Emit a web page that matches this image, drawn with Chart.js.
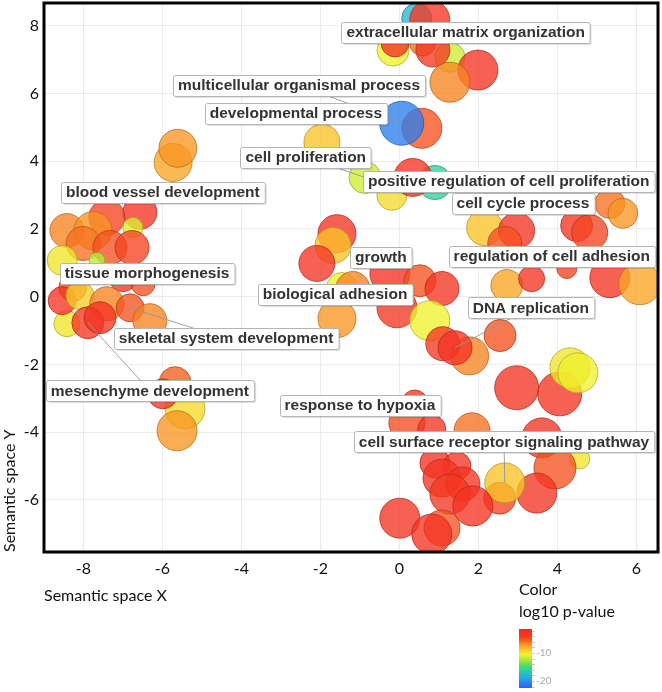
<!DOCTYPE html>
<html>
<head>
<meta charset="utf-8">
<script src="https://cdn.jsdelivr.net/npm/chart.js@4.4.1/dist/chart.umd.min.js"></script>
<style>
    html, body { margin: 0; padding: 0; background: #fff; }
    #chart { display: block; }
</style>
</head>
<body>
<canvas id="chart" width="662" height="692"></canvas>
<script>
// Position of every GO term in semantic space
var semX = [0.44, -0.16, 1.28, -0.11, 0.59, 0.77, 0.85, 1.99, 1.28,
    0.57, 0.06,
    -1.96, -0.87, -0.19, 0.90, 0.34,
    -5.73, -5.61,
    -6.57, -7.41, -6.75, -8.42, -7.76, -8.01, -7.33, -6.77, -8.54, -7.66, -7.00, -6.49, -8.27,
    -8.42, -8.54, -8.09, -7.41, -6.82, -7.89, -7.58, -6.32,
    -5.43, -5.68, -5.99, -5.63,
    -1.58, -1.68, -2.09, -1.46, -1.18, -0.24, 0.52, 1.08, -0.06, -1.58, 0.77, 1.78, 1.10, 1.41, 2.55,
    5.33, 5.66, 4.49, 4.82, 2.16, 2.97, 2.67, 2.72, 3.35, 4.24, 5.33, 6.09,
    2.97, 4.06, 4.32, 4.52,
    0.39, 0.19, 0.82, 1.84, 3.61, 4.57, 3.94, 3.48, 2.54, 2.67,
    0.90, 1.46, 1.08, 1.61, 1.28, 1.86, 0.01, 1.08, 0.82];
var semY = [8.22, 7.28, 7.07, 7.49, 7.49, 8.17, 7.28, 6.69, 6.33,
    4.97, 5.12,
    4.56, 3.52, 2.99, 3.37, 3.52,
    3.96, 4.38,
    2.49, 2.34, 2.04, 1.95, 1.95, 1.57, 1.45, 1.45, 1.07, 1.07, 0.56, 0.38, 0.27,
    -0.80, -0.12, 0.03, -0.21, -0.33, -0.77, -0.62, -0.71,
    -3.31, -2.54, -2.87, -3.96,
    1.86, 1.51, 0.98, 0.27, 0.24, 0.68, 0.47, 0.24, -0.33, -0.65, -0.71, -1.75, -1.39, -1.51, -1.15,
    2.75, 2.46, 2.10, 1.89, 2.04, 1.95, 1.57, 0.33, 0.53, 0.83, 0.56, 0.38,
    -2.69, -2.87, -2.10, -2.25,
    -3.14, -3.73, -3.91, -3.96, -4.17, -4.79, -5.06, -5.80, -5.95, -5.50,
    -4.91, -5.00, -5.36, -5.53, -5.83, -6.18, -6.54, -6.83, -7.01];
// log10 p-value of each term, drives the bubble colour
var log10p = [-18, -10.5, -11.5, -3, -6, -4, -4, -3.5, -6.5,
    -5, -21,
    -8.5, -11.5, -9.5, -16, -3,
    -7.5, -7,
    -3, -4.5, -11, -6.5, -7, -6, -5, -4.5, -10, -12, -3.5, -5, -5,
    -10, -3, -9, -6.5, -5, -4, -3, -6.5,
    -9.5, -5.5, -3.5, -7,
    -3.5, -8.5, -3.5, -10.5, -6.5, -2, -5, -3.5, -4, -7, -10.5, -6.5, -4, -3, -5,
    -6, -7, -3.5, -4.5, -8.5, -3.5, -5, -7.5, -3.5, -4.5, -3.5, -7.5,
    -3.5, -3.5, -10, -10.5,
    -3, -4.8, -3.5, -6, -3.5, -10, -5, -3.5, -4.5, -8.5,
    -3, -3.5, -3.5, -3, -4, -3, -3.5, -5, -3];
// Bubble size (radius)
var bubbleSize = [15, 16, 15, 14, 13, 20, 17, 20, 20,
    20, 22,
    18, 16, 15, 17, 19,
    19, 19,
    17, 18, 10, 17, 19, 17, 17, 17, 15, 8, 14, 12, 14,
    13, 14, 14, 17, 14, 16, 16, 17,
    20, 16, 15, 20,
    19, 18, 18, 15, 17, 20, 16, 17, 20, 19, 20, 19, 17, 17, 16,
    15, 15, 16, 18, 18, 18, 17, 16, 13, 10, 20, 21,
    22, 22, 20, 20,
    13, 18, 14, 18, 20, 10, 21, 20, 16, 20,
    15, 14, 19, 17, 20, 20, 20, 18, 20];

// Labelled terms, where their box sits and which bubble it points at (-1: none)
var labelText = ['extracellular matrix organization', 'multicellular organismal process',
    'developmental process', 'cell proliferation', 'positive regulation of cell proliferation',
    'cell cycle process', 'blood vessel development', 'regulation of cell adhesion', 'growth',
    'tissue morphogenesis', 'biological adhesion', 'DNA replication',
    'skeletal system development', 'mesenchyme development', 'response to hypoxia',
    'cell surface receptor signaling pathway'];
var labelX = [1.68, -2.54, -2.62, -2.37, 2.77, 3.13, -5.99, 3.86, -0.47, -6.39, -1.63, 3.33,
    -4.39, -6.32, -1.00, 2.65];
var labelY = [7.81, 6.24, 5.41, 4.11, 3.40, 2.75, 3.08, 1.18, 1.15, 0.68, 0.06, -0.33,
    -1.24, -2.78, -3.20, -4.29];
var labelLink = [-1, 10, -1, 12, -1, -1, -1, -1, -1, -1, -1, 56, 35, 36, -1, 83];

// Colour scale ticks
var colorTicks = [-10, -20];
var colorMin = -22.5;
var colorMax = -1.4;

// Colour ramp of the p-value scale: [value, r, g, b]
var colorStops = [
    [-22.5, 45, 95, 240], [-19, 40, 165, 232], [-16.5, 40, 205, 175], [-14.5, 80, 220, 100],
    [-12.5, 170, 232, 60], [-10.5, 238, 242, 45], [-8.5, 250, 195, 40], [-7, 248, 150, 35],
    [-5.5, 245, 95, 30], [-4, 245, 55, 35], [-1.4, 245, 45, 35]
];

function pvalueRgb(v) {
    if (v <= colorStops[0][0]) {
        return colorStops[0].slice(1);
    }
    for (var i = 1; i < colorStops.length; i++) {
        var a = colorStops[i - 1], b = colorStops[i];
        if (v <= b[0]) {
            var t = (v - a[0]) / (b[0] - a[0]);
            return [1, 2, 3].map(function(k) {
                return Math.round(a[k] + (b[k] - a[k]) * t);
            });
        }
    }
    return colorStops[colorStops.length - 1].slice(1);
}

function rgba(c, alpha, shade) {
    shade = shade || 1;
    return 'rgba(' + Math.round(c[0] * shade) + ',' + Math.round(c[1] * shade) + ',' +
        Math.round(c[2] * shade) + ',' + alpha + ')';
}

var axisFont = {family: 'Lato, "Open Sans", sans-serif', size: 16};
var labelFont = 'bold 15.5px "Liberation Sans", Arial, sans-serif';

/**
 * Term labels with their connector lines
 */
var termLabels = {
    id: 'termLabels',
    afterDatasetsDraw: function(chart) {
        var ctx = chart.ctx;
        var xs = chart.scales.x, ys = chart.scales.y;
        ctx.save();

        // Connector lines go under the boxes
        ctx.strokeStyle = 'rgba(150,150,150,0.9)';
        ctx.lineWidth = 1;
        labelText.forEach(function(t, i) {
            var k = labelLink[i];
            if (k < 0) {
                return;
            }
            ctx.beginPath();
            ctx.moveTo(xs.getPixelForValue(labelX[i]), ys.getPixelForValue(labelY[i]));
            ctx.lineTo(xs.getPixelForValue(semX[k]), ys.getPixelForValue(semY[k]));
            ctx.stroke();
        });

        ctx.font = labelFont;
        ctx.textAlign = 'center';
        ctx.textBaseline = 'middle';
        labelText.forEach(function(t, i) {
            var cx = xs.getPixelForValue(labelX[i]);
            var cy = ys.getPixelForValue(labelY[i]);
            var w = ctx.measureText(t).width + 10;
            var h = 21;
            var x0 = Math.round(cx - w / 2) + 0.5, y0 = Math.round(cy - h / 2) + 0.5;
            // Soft shadow
            ctx.fillStyle = 'rgba(0,0,0,0.12)';
            ctx.beginPath();
            ctx.roundRect(x0 + 1.5, y0 + 1.5, w, h, 2);
            ctx.fill();
            ctx.fillStyle = '#ffffff';
            ctx.strokeStyle = '#b4b4b4';
            ctx.beginPath();
            ctx.roundRect(x0, y0, w, h, 2);
            ctx.fill();
            ctx.stroke();
            ctx.fillStyle = '#333333';
            ctx.fillText(t, cx, cy + 0.5);
        });
        ctx.restore();
    }
};

/**
 * Thick frame round the plot and the colour key under it
 */
var frameAndKey = {
    id: 'frameAndKey',
    afterDraw: function(chart) {
        var ctx = chart.ctx;
        var a = chart.chartArea;
        ctx.save();
        ctx.strokeStyle = '#000';
        ctx.lineWidth = 3;
        ctx.strokeRect(a.left, a.top, a.right - a.left, a.bottom - a.top);

        // Colour key
        var kx = 519, kTop = 629, kBottom = 688, kw = 13;
        ctx.fillStyle = '#111';
        ctx.font = '16px ' + axisFont.family;
        ctx.textAlign = 'left';
        ctx.textBaseline = 'middle';
        ctx.fillText('Color', kx, 590);
        ctx.fillText('log10 p-value', kx, 612);

        var valueToY = function(v) {
            return kTop + (colorMax - v) / (colorMax - colorMin) * (kBottom - kTop);
        };
        for (var py = kTop; py < kBottom; py++) {
            var v = colorMax - (py - kTop + 0.5) / (kBottom - kTop) * (colorMax - colorMin);
            ctx.fillStyle = rgba(pvalueRgb(v), 1);
            ctx.fillRect(kx, py, kw, 1);
        }
        ctx.strokeStyle = '#c8c8c8';
        ctx.lineWidth = 1;
        for (var m = -2; m >= -22; m -= 2) {
            var my = Math.round(valueToY(m)) + 0.5;
            ctx.beginPath();
            ctx.moveTo(kx + kw, my);
            ctx.lineTo(kx + kw + 3, my);
            ctx.stroke();
        }
        ctx.fillStyle = '#a8a8a8';
        ctx.font = '10px ' + axisFont.family;
        colorTicks.forEach(function(t) {
            ctx.fillText(String(t), kx + kw + 4, valueToY(t));
        });
        ctx.restore();
    }
};

var points = semX.map(function(x, i) {
    return {x: x, y: semY[i], r: bubbleSize[i]};
});

new Chart(document.getElementById('chart'), {
    type: 'bubble',
    data: {
        datasets: [{
            data: points,
            clip: 0,
            backgroundColor: log10p.map(function(v) {
                return rgba(pvalueRgb(v), 0.78);
            }),
            borderColor: log10p.map(function(v) {
                return rgba(pvalueRgb(v), 0.75, 0.72);
            }),
            borderWidth: 1
        }]
    },
    options: {
        responsive: false,
        animation: false,
        events: [],
        layout: {autoPadding: false, padding: {top: 3, right: 4, bottom: 80, left: 0}},
        plugins: {
            legend: {display: false},
            tooltip: {enabled: false}
        },
        scales: {
            x: {
                type: 'linear',
                min: -9.0,
                max: 6.55,
                afterFit: function(s) {
                    s.height = 60;
                    s.paddingLeft = 0;
                    s.paddingRight = 0;
                },
                grid: {color: '#ebebeb', drawTicks: false},
                border: {display: false},
                ticks: {stepSize: 2, includeBounds: false, padding: 7, color: '#111',
                    font: axisFont, maxRotation: 0},
                title: {display: true, text: 'Semantic space X', align: 'start', color: '#111',
                    font: axisFont, padding: {top: 0, bottom: 7}}
            },
            y: {
                type: 'linear',
                min: -7.54,
                max: 8.67,
                afterFit: function(s) {
                    s.width = 44;
                    s.paddingTop = 0;
                    s.paddingBottom = 0;
                },
                grid: {color: '#ebebeb', drawTicks: false},
                border: {display: false},
                ticks: {stepSize: 2, includeBounds: false, padding: 5, color: '#111',
                    font: axisFont},
                title: {display: true, text: 'Semantic space Y', align: 'start', color: '#111',
                    font: axisFont, padding: 0}
            }
        }
    },
    plugins: [termLabels, frameAndKey]
});
</script>
</body>
</html>
